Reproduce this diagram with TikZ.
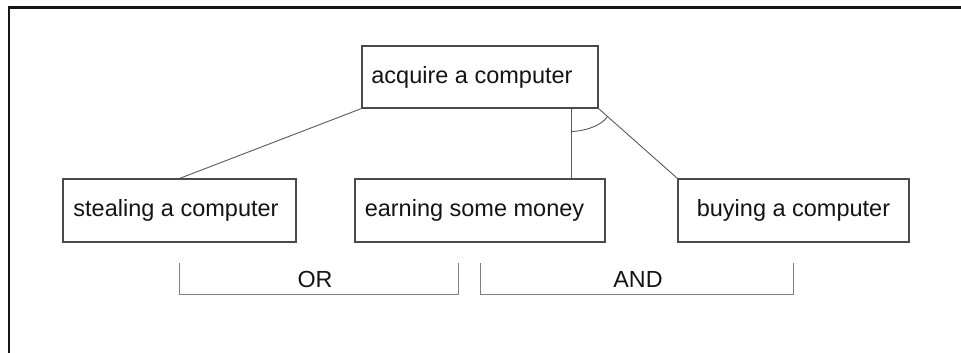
\documentclass[tikz,border=0pt]{standalone}
\usepackage{fontspec}
\setmainfont{Liberation Sans}
\usetikzlibrary{calc}
\definecolor{framecol}{HTML}{161616}
\definecolor{boxcol}{HTML}{4A4A4A}
\definecolor{linkcol}{HTML}{5A5A5A}
\definecolor{bracketcol}{HTML}{808080}
\definecolor{textcol}{HTML}{141414}
% set a label slightly left of its box centre
\newcommand{\leftset}[2]{\kern-#1pt #2}
\begin{document}
\begin{tikzpicture}[x=1pt,y=-1pt,
  goalbox/.style={draw=boxcol, line width=1.1pt, fill=white, inner sep=0pt,
    minimum height=63pt, font=\fontsize{23.5}{28}\selectfont, text=textcol},
  link/.style={draw=linkcol, line width=0.9pt},
  bracket/.style={draw=bracketcol, line width=0.9pt},
  tag/.style={font=\fontsize{23.3}{28}\selectfont, text=textcol, inner sep=0pt},
  framing/.style={draw=framecol, line width=2.6pt}]
\useasboundingbox (0,0) rectangle (961,353);
\fill[white] (0,0) rectangle (961,353);

% outer frame (top and left edges)
\draw[framing] (8.8,353) |- (961,7.5);

% goal tree
\node[goalbox, minimum width=236pt, minimum height=62pt] (goal) at (480,77) {\leftset{16}{acquire a computer}};
\node[goalbox, minimum width=233pt] (steal) at (179.5,210.5) {\leftset{7}{stealing a computer}};
\node[goalbox, minimum width=250pt] (earn)  at (480,210.5)   {\leftset{11}{earning some money}};
\node[goalbox, minimum width=231pt] (buy)   at (793.5,210.5) {buying a computer};

% connectors
\draw[link] (goal.south west) -- (steal.north);
\path (goal.south east) ++(-27,0) coordinate (stem);
\draw[link] (stem) -- (stem |- earn.north);
\draw[link] (goal.south east) -- (buy.north west);

% AND arc joining the two refinements
\coordinate (arcstart) at ($(stem)+(0,23)$);
\coordinate (arcend) at ($(goal.south east)!0.113!(buy.north west)$);
\draw[link] (arcstart) .. controls +(17,-1) and +(-5,8) .. (arcend);

% OR / AND brackets
\draw[bracket] (179.5,263) -- (179.5,294) -- (458,294) -- (458,263);
\node[tag] (orlabel) at (315,279) {OR};
\draw[bracket] (480,263) -- (480,294) -- (793,294) -- (793,263);
\node[tag] (andlabel) at (638,279) {AND};
\end{tikzpicture}
\end{document}
